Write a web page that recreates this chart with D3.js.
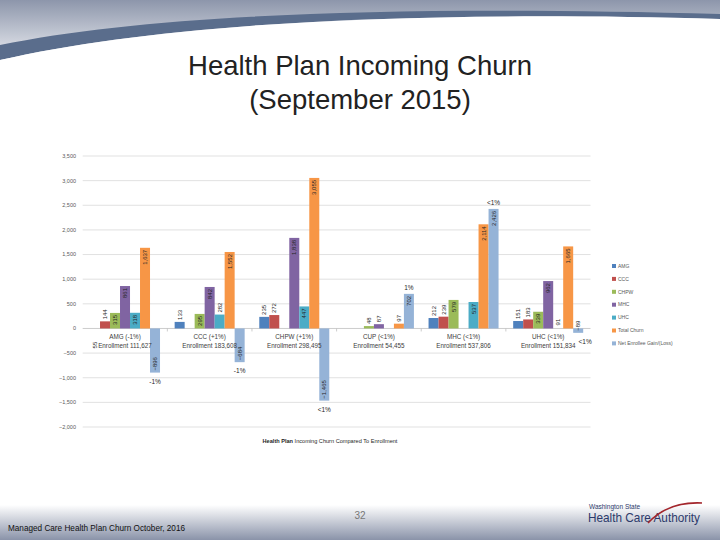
<!DOCTYPE html>
<html>
<head>
<meta charset="utf-8">
<script src="https://cdn.jsdelivr.net/npm/d3@7"></script>
<style>
  body { margin: 0; background: #fff; }
  svg { display: block; font-family: "Liberation Sans", Arial, sans-serif; }
</style>
</head>
<body>
<svg id="chart" width="720" height="540"></svg>
<script>
// plans on the x axis
const plans = ["AMG", "CCC", "CHPW", "CUP", "MHC", "UHC"];
const planChange = ["-1%", "+1%", "+1%", "<1%", "<1%", "<1%"];
const enrollment = ["111,627", "183,608", "298,495", "54,455", "537,806", "151,834"];

// series (incoming churn from each plan), one value per plan
const seriesNames = ["AMG", "CCC", "CHPW", "MHC", "UHC", "Total Churn", "Net Enrollee Gain/(Loss)"];
const amgValues   = [null, 133, 235, null, 212, 151];
const cccValues   = [144, null, 272, null, 239, 183];
const chpwValues  = [315, 295, null, 48, 579, 339];
const mhcValues   = [861, 842, 1838, 87, null, 962];
const uhcValues   = [318, 282, 447, null, 537, null];
const totalChurn  = [1637, 1552, 3055, 97, 2114, 1665];
const netGain     = [-896, -684, -1465, 702, 2426, -89];
const netPercent  = ["-1%", "-1%", "<1%", "1%", "<1%", "<1%"];

// labels shown in a plan's own slot with no bar
const strayLabels = [
    { plan: "AMG", series: "AMG", text: "55", side: -1 },
    { plan: "UHC", series: "UHC", text: "91", side: 1 }
];

const yTicks = [-2000, -1500, -1000, -500, 0, 500, 1000, 1500, 2000, 2500, 3000, 3500];

const colors = ["#4F81BD", "#C0504D", "#9BBB59", "#8064A2", "#4BACC6", "#F79646", "#95B3D7"];
const allValues = [amgValues, cccValues, chpwValues, mhcValues, uhcValues, totalChurn, netGain];

const svg = d3.select("#chart");
const fmt = d3.format(",");

// ---------- slide decoration ----------
const defs = svg.append("defs");
const topGrad = defs.append("linearGradient").attr("id", "topGrad")
    .attr("x1", 0).attr("y1", 0).attr("x2", 0).attr("y2", 1);
topGrad.append("stop").attr("offset", "0%").attr("stop-color", "#8d96ab");
topGrad.append("stop").attr("offset", "100%").attr("stop-color", "#eef0f4");
const botGrad = defs.append("linearGradient").attr("id", "botGrad")
    .attr("x1", 0).attr("y1", 0).attr("x2", 0).attr("y2", 1);
botGrad.append("stop").attr("offset", "0%").attr("stop-color", "#ffffff");
botGrad.append("stop").attr("offset", "100%").attr("stop-color", "#8a93a9");

svg.append("rect").attr("x", 0).attr("y", 0).attr("width", 720).attr("height", 62)
    .attr("fill", "url(#topGrad)");
// dark swoosh band
svg.append("path")
    .attr("d", "M0,45 C150,14 400,5 720,14 L720,19 C400,10 160,24 0,60 Z")
    .attr("fill", "#5a6d8c");
// white page under the swoosh
svg.append("path")
    .attr("d", "M0,60 C160,24 400,10 720,19 L720,540 L0,540 Z")
    .attr("fill", "#ffffff");

svg.append("rect").attr("x", 0).attr("y", 505).attr("width", 720).attr("height", 35)
    .attr("fill", "url(#botGrad)");

// title
svg.append("text").attr("x", 360).attr("y", 75).attr("text-anchor", "middle")
    .attr("font-size", 27.5).attr("fill", "#222").text("Health Plan Incoming Churn");
svg.append("text").attr("x", 360).attr("y", 109).attr("text-anchor", "middle")
    .attr("font-size", 27.5).attr("fill", "#222").text("(September 2015)");

// footer
svg.append("text").attr("x", 8).attr("y", 531)
    .attr("font-family", "'Liberation Sans Narrow', 'Liberation Sans', sans-serif")
    .attr("font-size", 8.5).attr("fill", "#111")
    .attr("textLength", 177).attr("lengthAdjust", "spacingAndGlyphs")
    .text("Managed Care Health Plan Churn October, 2016");
svg.append("text").attr("x", 360).attr("y", 519).attr("text-anchor", "middle")
    .attr("font-size", 10).attr("fill", "#777").text("32");

// logo
const logo = svg.append("g");
logo.append("text").attr("x", 589).attr("y", 509).attr("font-size", 6.5)
    .attr("fill", "#2c3a6b").text("Washington State");
logo.append("text").attr("x", 588).attr("y", 522).attr("font-size", 13)
    .attr("fill", "#2c3a6b").attr("textLength", 112).attr("lengthAdjust", "spacingAndGlyphs")
    .text("Health Care Authority");
logo.append("path").attr("d", "M648,523 C662,508 682,502 702,503")
    .attr("fill", "none").attr("stroke", "#a3262c").attr("stroke-width", 1.6);

// ---------- chart ----------
const x0 = d3.scaleBand().domain(plans).range([82.7, 590.5]);
const groupWidth = 70;
const x1 = d3.scaleBand().domain(seriesNames).range([0, groupWidth]);
const y = d3.scaleLinear().domain([-2000, 3500]).range([427, 156]);
const pad = (x0.bandwidth() - groupWidth) / 2;

const chart = svg.append("g");

// gridlines
chart.append("g")
    .selectAll("line")
    .data(yTicks)
    .enter().append("line")
    .attr("x1", 82.7).attr("x2", 590.5)
    .attr("y1", d => y(d)).attr("y2", d => y(d))
    .attr("stroke", d => d === 0 ? "#bfbfbf" : "#d9d9d9")
    .attr("stroke-width", 0.8);

// y axis labels
chart.append("g")
    .selectAll("text")
    .data(yTicks)
    .enter().append("text")
    .attr("x", 76).attr("y", d => y(d))
    .attr("dy", "0.35em").attr("text-anchor", "end")
    .attr("font-size", 5.5).attr("fill", "#595959")
    .text(d => fmt(d));

// category tick marks on zero line
chart.append("g")
    .selectAll("line")
    .data(plans.slice(1))
    .enter().append("line")
    .attr("x1", d => x0(d)).attr("x2", d => x0(d))
    .attr("y1", y(0)).attr("y2", y(0) + 3)
    .attr("stroke", "#bfbfbf").attr("stroke-width", 0.8);

// build bar data
const bars = [];
plans.forEach((p, i) => {
    seriesNames.forEach((s, j) => {
        const v = allValues[j][i];
        if (v !== null) bars.push({ plan: p, series: s, value: v, color: colors[j], idx: j });
    });
});

const barX = d => x0(d.plan) + pad + x1(d.series);
const bw = x1.bandwidth();

chart.append("g")
    .selectAll("rect")
    .data(bars)
    .enter().append("rect")
    .attr("x", barX)
    .attr("y", d => y(Math.max(0, d.value)))
    .attr("width", bw)
    .attr("height", d => Math.abs(y(d.value) - y(0)))
    .attr("fill", d => d.color);

// bar value labels, rotated
const labelFits = d => d.idx >= 2 && Math.abs(y(d.value) - y(0)) > 14;
chart.append("g")
    .selectAll("text")
    .data(bars)
    .enter().append("text")
    .attr("transform", d => {
        const cx = barX(d) + bw / 2;
        let ty;
        if (d.value >= 0) ty = labelFits(d) ? y(d.value) + 2 : y(d.value) - 2;
        else ty = y(d.value) - 2;
        return `translate(${cx},${ty}) rotate(-90)`;
    })
    .attr("text-anchor", d => (d.value >= 0 && labelFits(d)) ? "end" : "start")
    .attr("dominant-baseline", "central")
    .attr("font-size", 6)
    .attr("fill", "#262626")
    .text(d => fmt(d.value));

// stray labels
chart.append("g")
    .selectAll("text")
    .data(strayLabels)
    .enter().append("text")
    .attr("transform", d => {
        const cx = x0(d.plan) + pad + x1(d.series) + bw / 2;
        const ty = d.side > 0 ? y(0) - 3 : y(0) + 20;
        return `translate(${cx},${ty}) rotate(-90)`;
    })
    .attr("text-anchor", "start")
    .attr("dominant-baseline", "central")
    .attr("font-size", 6)
    .attr("fill", "#262626")
    .text(d => d.text);

// net percent labels
chart.append("g")
    .selectAll("text")
    .data(plans)
    .enter().append("text")
    .attr("x", (p, i) => x0(p) + pad + x1(seriesNames[6]) + bw / 2 + (netGain[i] < 0 && Math.abs(y(netGain[i]) - y(0)) < 10 ? 7 : 0))
    .attr("y", (p, i) => netGain[i] >= 0 ? y(netGain[i]) - 4 : y(netGain[i]) + 11)
    .attr("text-anchor", "middle")
    .attr("font-size", 6.5)
    .attr("fill", "#262626")
    .text((p, i) => netPercent[i]);

// category labels
const cat = chart.append("g")
    .selectAll("text")
    .data(plans)
    .enter().append("text")
    .attr("text-anchor", "middle")
    .attr("font-size", 6.3)
    .attr("fill", "#404040");
cat.append("tspan")
    .attr("x", p => x0(p) + x0.bandwidth() / 2).attr("y", 339)
    .text((p, i) => `${p} (${planChange[i]})`);
cat.append("tspan")
    .attr("x", p => x0(p) + x0.bandwidth() / 2).attr("y", 348)
    .text((p, i) => `Enrollment ${enrollment[i]}`);

// x axis title
const xt = chart.append("text").attr("x", 330).attr("y", 443)
    .attr("text-anchor", "middle").attr("font-size", 5.6).attr("fill", "#262626");
xt.append("tspan").attr("font-weight", "bold").text("Health Plan ");
xt.append("tspan").text("Incoming Churn Compared To Enrollment");

// legend
const legend = chart.append("g")
    .selectAll("g")
    .data(seriesNames)
    .enter().append("g")
    .attr("transform", (d, i) => `translate(612,${266 + i * 12.9})`);
legend.append("rect").attr("x", 0).attr("y", -2).attr("width", 4).attr("height", 4)
    .attr("fill", (d, i) => colors[i]);
legend.append("text").attr("x", 6).attr("y", 0).attr("dy", "0.35em")
    .attr("font-size", 5).attr("fill", "#595959")
    .text(d => d);
</script>
</body>
</html>
